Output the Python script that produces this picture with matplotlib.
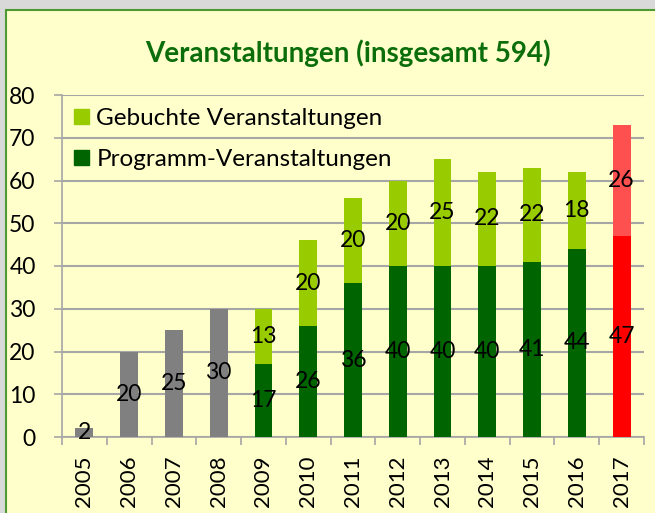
import matplotlib.pyplot as plt
from matplotlib.patches import Patch, Rectangle

years = ['2005', '2006', '2007', '2008', '2009', '2010', '2011', '2012',
         '2013', '2014', '2015', '2016', '2017']
programm = [2, 20, 25, 30, 17, 26, 36, 40, 40, 40, 41, 44, 47]
gebucht = [0, 0, 0, 0, 13, 20, 20, 20, 25, 22, 22, 18, 26]
bottom_colors = ['#808080'] * 4 + ['#006400'] * 8 + ['#FF0000']
top_colors = ['#808080'] * 4 + ['#99CC00'] * 8 + ['#FF5050']

plt.rcParams['font.family'] = ['Lato', 'DejaVu Sans']

fig = plt.figure(figsize=(6.55, 5.13), dpi=100, facecolor='#D9D9D9')
W, H = 655, 513
# chart area with green border
fig.patches.append(Rectangle((6 / W, -0.1), 1.1, 1 - 10 / H + 0.1, transform=fig.transFigure,
                             facecolor='#FFFFCC', edgecolor='#4E9A32', lw=1.5, zorder=-5))

ax = fig.add_axes([62 / W, 1 - 437 / H, 582 / W, 342 / H])
ax.set_facecolor('none')

x = range(len(years))
b1 = ax.bar(x, programm, width=0.4, color=bottom_colors, zorder=3)
b2 = ax.bar(x, gebucht, width=0.4, bottom=programm, color=top_colors, zorder=3)

for i in x:
    ax.text(i, programm[i] / 2, str(programm[i]), ha='center', va='center',
            fontsize=16.5, color='black', zorder=4)
    if gebucht[i]:
        ax.text(i, programm[i] + gebucht[i] / 2, str(gebucht[i]), ha='center', va='center',
                fontsize=16.5, color='black', zorder=4)

ax.set_xlim(-0.5, len(years) - 0.5)
ax.set_ylim(0, 80)
ax.set_yticks(range(0, 81, 10))
ax.set_xticks(list(x))
ax.set_xticklabels(years, rotation=90)
ax.set_xticks([i - 0.5 for i in range(len(years) + 1)], minor=True)
ax.tick_params(axis='x', which='major', length=0, pad=13, labelsize=16)
ax.tick_params(axis='x', which='minor', length=6, color='#A6A6A6', width=1.2)
ax.tick_params(axis='y', length=6, color='#A6A6A6', width=1.2, pad=13, labelsize=16.5)
ax.grid(axis='y', color='#A6A6A6', lw=1.5, zorder=0)
for s in ['top', 'right']:
    ax.spines[s].set_visible(False)
for s in ['left', 'bottom']:
    ax.spines[s].set_color('#A6A6A6')
    ax.spines[s].set_linewidth(1.2)

handles = [Patch(color='#99CC00'), Patch(color='#006400')]
ax.legend(handles, ['Gebuchte Veranstaltungen', 'Programm-Veranstaltungen'],
          loc='upper left', bbox_to_anchor=(12 / 582, 1 - 13 / 342), frameon=False,
          fontsize=17.5, handlelength=0.62, handleheight=0.62, handletextpad=0.3,
          labelspacing=0.83, borderaxespad=0, borderpad=0)

fig.text(348 / W, 1 - 53 / H, 'Veranstaltungen (insgesamt 594)', ha='center', va='center',
         fontsize=20, fontweight='bold', color='#0B6E0B')

fig.savefig('out.png', dpi=100, facecolor=fig.get_facecolor())
